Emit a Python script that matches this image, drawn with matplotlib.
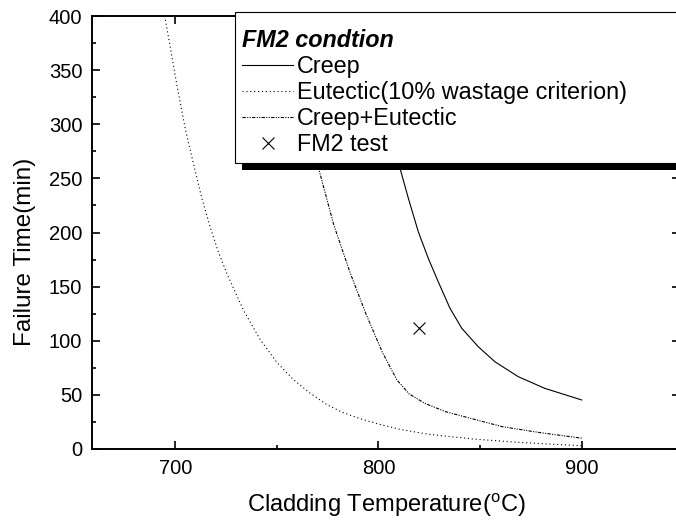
import matplotlib
matplotlib.use("Agg")
import matplotlib.pyplot as plt
from matplotlib.patches import Rectangle
from matplotlib.transforms import IdentityTransform
from matplotlib.ticker import MultipleLocator

plt.rcParams["font.family"] = ["Liberation Sans", "DejaVu Sans"]
plt.rcParams["mathtext.default"] = "regular"

# data
creep_T = [797, 800, 806, 810.6, 814.7, 819.6, 824.5, 829.4, 835.2, 841, 849.1,
           857.3, 868.8, 881.9, 900]
creep_t = [400, 350, 294, 259.3, 231.6, 200.7, 176.2, 154.5, 130, 111.5, 94.5,
           80.6, 66.8, 56, 45.3]

eut_T = [694.8, 701, 705, 709, 713, 717, 721, 725.4, 733.6, 741.8, 750, 758.2,
         766.4, 774.6, 782, 791, 800, 811, 825, 848, 870, 900]
eut_t = [400, 334, 295, 263, 232, 206, 183, 162, 128, 101, 80, 64,
         51.5, 41, 34, 28, 23, 18, 13.5, 9, 6, 3]

both_T = [757, 766, 770.7, 778, 786, 794, 802, 809, 815, 823, 833, 848, 861, 880, 900]
both_t = [400, 295, 258, 207, 163, 124, 89, 64, 51, 42, 34.5, 27, 20.6, 15, 10]

test_T = [820]
test_t = [111.5]

W, H = 676, 521
fig = plt.figure(figsize=(W / 100, H / 100), dpi=100)
ax = fig.add_axes([92 / W, (H - 449) / H, (680 - 92) / W, (449 - 16) / H])

ax.plot(creep_T, creep_t, color="black", lw=0.8, ls="-", label="Creep")
ax.plot(eut_T, eut_t, color="black", lw=0.8, ls=(0, (1, 2.5)),
        label="Eutectic(10% wastage criterion)")
ax.plot(both_T, both_t, color="black", lw=0.8, ls=(0, (3, 1.2, 1, 1.2, 1, 1.2)),
        label="Creep+Eutectic")
ax.plot(test_T, test_t, ls="none", marker="x", ms=8.5, mew=0.8, color="black",
        label="FM2 test")

ax.set_xlim(659, 948.4)
ax.set_ylim(0, 400)
ax.xaxis.set_major_locator(MultipleLocator(100))
ax.xaxis.set_minor_locator(MultipleLocator(50))
ax.yaxis.set_major_locator(MultipleLocator(50))
ax.yaxis.set_minor_locator(MultipleLocator(25))
ax.tick_params(which="both", direction="in", top=True, right=True,
               labelsize=14.5, width=1.2, pad=7)
ax.tick_params(which="major", length=6)
ax.tick_params(which="minor", length=3)
for s in ax.spines.values():
  s.set_linewidth(1.4)

ax.set_xlabel("Cladding Temperature($^o$C)", fontsize=17, labelpad=10)
ax.set_ylabel("Failure Time(min)", fontsize=17.5)
ax.yaxis.set_label_coords(-0.095, 0.456)

leg = ax.legend(
  title="FM2 condtion",
  title_fontproperties={"weight": "bold", "style": "italic", "size": 16.8},
  fontsize=16.8,
  loc="upper left",
  bbox_to_anchor=(242 / W, (H - 29) / H),
  bbox_transform=fig.transFigure,
  alignment="left",
  frameon=False,
  borderaxespad=0, borderpad=0,
  handlelength=2.2, handletextpad=0.15, labelspacing=0.13,
)
leg.set_zorder(5)

# white box with a heavy black drop shadow behind the legend
fig.canvas.draw()
bb = leg.get_window_extent()
box_left, box_top, box_right = 235, H - 12, 760
box_bottom = bb.y0 - 7
frame = Rectangle((box_left, box_bottom), box_right - box_left, box_top - box_bottom,
                  transform=IdentityTransform(), facecolor="white",
                  edgecolor="black", lw=0.8, zorder=4.95, clip_on=False)
shadow = Rectangle((box_left + 7, box_bottom - 7), box_right - box_left, box_top - box_bottom,
                   transform=IdentityTransform(), facecolor="black",
                   edgecolor="none", zorder=4.9, clip_on=False)
ax.add_patch(shadow)
ax.add_patch(frame)

fig.savefig("out.png", dpi=100)
